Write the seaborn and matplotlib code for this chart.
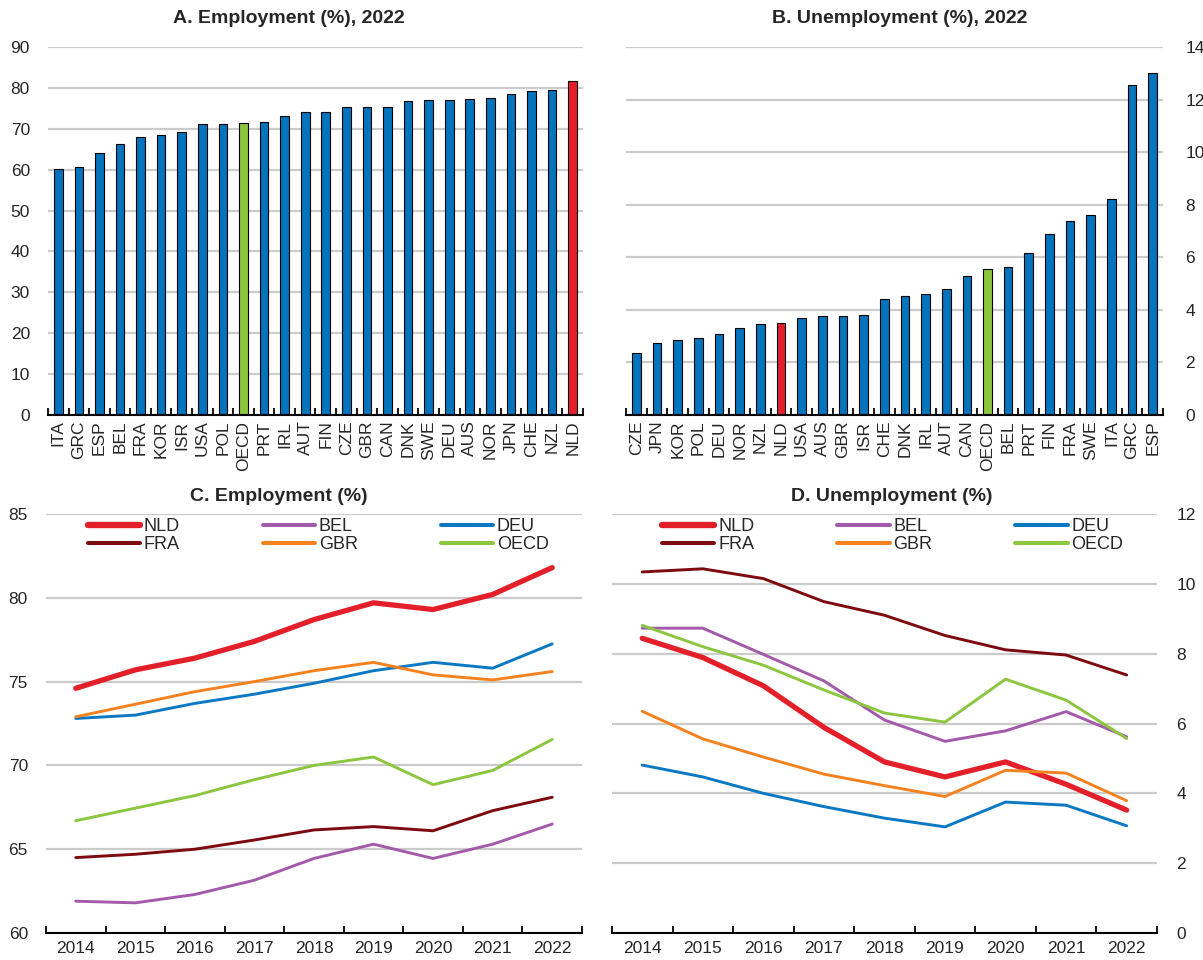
import numpy as np
import pandas as pd
import seaborn as sns
import matplotlib.pyplot as plt
from matplotlib.ticker import FixedLocator

sns.set_style('white')
plt.rcParams['font.family'] = ['Liberation Sans', 'DejaVu Sans']

# Panel A: employment rate 2022
emp_countries = ['ITA', 'GRC', 'ESP', 'BEL', 'FRA', 'KOR', 'ISR', 'USA', 'POL', 'OECD',
                 'PRT', 'IRL', 'AUT', 'FIN', 'CZE', 'GBR', 'CAN', 'DNK', 'SWE', 'DEU',
                 'AUS', 'NOR', 'JPN', 'CHE', 'NZL', 'NLD']
emp_values = [60.1, 60.7, 64.2, 66.4, 68.0, 68.4, 69.1, 71.1, 71.2, 71.4,
              71.6, 73.1, 74.0, 74.2, 75.3, 75.4, 75.4, 76.7, 77.0, 77.1,
              77.2, 77.6, 78.4, 79.3, 79.6, 81.7]

# Panel B: unemployment rate 2022
unemp_countries = ['CZE', 'JPN', 'KOR', 'POL', 'DEU', 'NOR', 'NZL', 'NLD', 'USA', 'AUS',
                   'GBR', 'ISR', 'CHE', 'DNK', 'IRL', 'AUT', 'CAN', 'OECD', 'BEL', 'PRT',
                   'FIN', 'FRA', 'SWE', 'ITA', 'GRC', 'ESP']
unemp_values = [2.37, 2.75, 2.87, 2.94, 3.07, 3.32, 3.45, 3.51, 3.69, 3.78,
                3.78, 3.80, 4.43, 4.53, 4.59, 4.79, 5.29, 5.57, 5.62, 6.16,
                6.89, 7.38, 7.60, 8.22, 12.57, 13.02]

# Panels C and D: time series
years = ['2014', '2015', '2016', '2017', '2018', '2019', '2020', '2021', '2022']
series_names = ['NLD', 'BEL', 'DEU', 'FRA', 'GBR', 'OECD']

emp_nld = [74.6, 75.7, 76.4, 77.4, 78.7, 79.7, 79.3, 80.2, 81.8]
emp_bel = [61.9, 61.8, 62.3, 63.15, 64.45, 65.3, 64.45, 65.3, 66.5]
emp_deu = [72.8, 73.0, 73.7, 74.25, 74.9, 75.65, 76.15, 75.8, 77.25]
emp_fra = [64.5, 64.7, 65.0, 65.55, 66.15, 66.35, 66.1, 67.3, 68.1]
emp_gbr = [72.9, 73.65, 74.4, 75.0, 75.65, 76.15, 75.4, 75.1, 75.6]
emp_oecd = [66.7, 67.45, 68.2, 69.15, 70.0, 70.5, 68.85, 69.7, 71.55]

unemp_nld = [8.44, 7.89, 7.08, 5.89, 4.90, 4.47, 4.90, 4.26, 3.52]
unemp_bel = [8.73, 8.73, 7.98, 7.22, 6.10, 5.49, 5.79, 6.34, 5.62]
unemp_deu = [4.81, 4.47, 4.00, 3.62, 3.29, 3.04, 3.75, 3.66, 3.07]
unemp_fra = [10.34, 10.43, 10.15, 9.49, 9.10, 8.52, 8.11, 7.96, 7.39]
unemp_gbr = [6.35, 5.56, 5.04, 4.55, 4.22, 3.91, 4.66, 4.58, 3.79]
unemp_oecd = [8.81, 8.20, 7.67, 6.96, 6.30, 6.04, 7.27, 6.67, 5.57]

BLUE = '#0474BC'
RED = '#E3202A'
GREEN = '#8CC63F'
line_colors = {'NLD': RED, 'BEL': '#A35AAA', 'DEU': '#0A78C2',
               'FRA': '#7C0A0E', 'GBR': '#F5821F', 'OECD': '#8CC63F'}
line_widths = {'NLD': 3.8, 'BEL': 2.1, 'DEU': 2.1, 'FRA': 2.1, 'GBR': 2.1, 'OECD': 2.1}

TICK_SIZE = 12.5
TITLE_SIZE = 14


def style_axis(ax, n, right=False, ypad=13, xpad=5):
    #common look: grey grid, black bottom line, ticks between categories
    for side in ['top', 'left', 'right']:
        ax.spines[side].set_visible(False)
    ax.spines['bottom'].set_color('black')
    ax.spines['bottom'].set_linewidth(1.5)
    ax.set_xlim(-0.5, n - 0.5)
    ax.xaxis.set_minor_locator(FixedLocator(np.arange(-0.5, n, 1)))
    ax.tick_params(axis='x', which='minor', direction='in', length=5, width=1.3,
                   color='black', bottom=True)
    ax.tick_params(axis='x', which='major', length=0, labelsize=TICK_SIZE, pad=xpad)
    ax.tick_params(axis='y', length=0, labelsize=TICK_SIZE, pad=ypad)
    if right:
        ax.yaxis.tick_right()
    ax.grid(axis='y', color='#CBCBCB', linewidth=1.6)
    ax.grid(axis='x', visible=False)
    ax.set_axisbelow(True)
    ax.set_xlabel('')
    ax.set_ylabel('')


def bar_panel(ax, countries, values, title, ymax, step, right, title_x):
    colors = [RED if c == 'NLD' else GREEN if c == 'OECD' else BLUE for c in countries]
    df = pd.DataFrame({'country': countries, 'value': values})
    sns.barplot(data=df, x='country', y='value', hue='country', palette=colors,
                legend=False, width=0.42, edgecolor='black', linewidth=0.8,
                saturation=1, ax=ax)
    ax.set_ylim(0, ymax)
    ax.set_yticks(np.arange(0, ymax + 0.1, step))
    style_axis(ax, len(countries), right, ypad=16 if right else 13, xpad=4)
    plt.setp(ax.get_xticklabels(), rotation=90)
    ax.set_title(title, fontsize=TITLE_SIZE, fontweight='bold', pad=17, x=title_x)


def line_panel(ax, series, title, ylim, step, right, legend_x, title_x):
    df = pd.DataFrame({'year': years * len(series_names),
                       'country': np.repeat(series_names, len(years)),
                       'value': np.concatenate(series)})
    sns.lineplot(data=df, x='year', y='value', hue='country', size='country',
                 palette=line_colors, sizes=line_widths, ax=ax, legend=False)
    ax.set_ylim(*ylim)
    ax.set_yticks(np.arange(ylim[0], ylim[1] + 0.1, step))
    style_axis(ax, len(years), right, ypad=14 if right else 13, xpad=6)
    ax.set_title(title, fontsize=TITLE_SIZE, fontweight='bold', pad=9, x=title_x)

    #legend with 2 rows, filled row by row
    order = ['NLD', 'FRA', 'BEL', 'GBR', 'DEU', 'OECD']
    handles = [plt.Line2D([], [], color=line_colors[c], linewidth=line_widths[c] + 0.8,
                          solid_capstyle='round') for c in order]
    ax.legend(handles, order, ncol=3, loc='upper left', frameon=False,
              bbox_to_anchor=(legend_x, 0.99), borderaxespad=0, borderpad=0,
              fontsize=13, handlelength=2.9, handletextpad=0.2,
              columnspacing=4.6, labelspacing=0.05)


def main():
    fig = plt.figure(figsize=(12.03, 9.6), dpi=100)

    ax_a = fig.add_axes([0.0399, 0.5677, 0.4447, 0.3833])
    bar_panel(ax_a, emp_countries, emp_values, 'A. Employment (%), 2022', 90, 10, False, 0.45)

    ax_b = fig.add_axes([0.5204, 0.5677, 0.4464, 0.3833])
    bar_panel(ax_b, unemp_countries, unemp_values, 'B. Unemployment (%), 2022', 14, 2, True, 0.51)

    ax_c = fig.add_axes([0.0382, 0.0281, 0.4456, 0.4365])
    line_panel(ax_c, [emp_nld, emp_bel, emp_deu, emp_fra, emp_gbr, emp_oecd],
               'C. Employment (%)', (60, 85), 5, False, 0.078, 0.435)

    ax_d = fig.add_axes([0.5087, 0.0281, 0.453, 0.4365])
    line_panel(ax_d, [unemp_nld, unemp_bel, unemp_deu, unemp_fra, unemp_gbr, unemp_oecd],
               'D. Unemployment (%)', (0, 12), 2, True, 0.092, 0.514)

    fig.savefig('out.png', dpi=100)
    plt.close(fig)


if __name__ == '__main__':
    main()
